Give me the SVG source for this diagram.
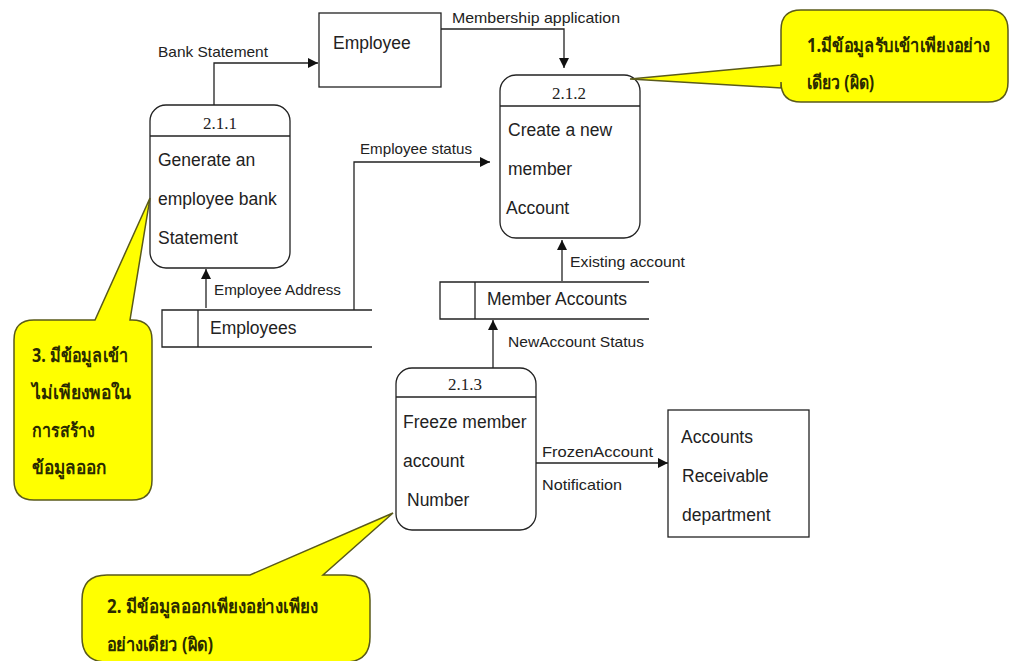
<svg xmlns="http://www.w3.org/2000/svg" width="1019" height="661" viewBox="0 0 1019 661">
<defs>
<style>
.box{fill:#fff;stroke:#222;stroke-width:1.3}
.ln{fill:none;stroke:#222;stroke-width:1.3}
.t{font-family:"Liberation Sans",Arial,sans-serif;font-size:17.5px;fill:#222}
.lb{font-family:"Liberation Sans",Arial,sans-serif;font-size:15px;fill:#222}
.id{font-family:"Liberation Serif","Times New Roman",serif;font-size:17px;fill:#222;text-anchor:middle}
.call{fill:#ffff00;stroke:#5a5a1a;stroke-width:1.5}
.ct{font-family:"Noto Sans","DejaVu Sans",sans-serif;font-size:19px;font-weight:bold;fill:#2a2a00}
</style>
<marker id="arr" viewBox="0 0 10 10" refX="10" refY="5" markerWidth="10" markerHeight="10" markerUnits="userSpaceOnUse" orient="auto">
<path d="M0,0 L10,5 L0,10 Z" fill="#111"/>
</marker>
</defs>
<rect width="1019" height="661" fill="#fff"/>

<g id="connectors">
<polyline class="ln" points="214,105 214,63 318,63" marker-end="url(#arr)"/>
<text class="lb" x="158" y="57" textLength="110" lengthAdjust="spacingAndGlyphs">Bank Statement</text>
<polyline class="ln" points="441,29 564,29 564,68" marker-end="url(#arr)"/>
<text class="lb" x="452" y="23" textLength="168" lengthAdjust="spacingAndGlyphs">Membership application</text>
<line class="ln" x1="206" y1="308" x2="206" y2="269" marker-end="url(#arr)"/>
<text class="lb" x="214" y="295" textLength="127" lengthAdjust="spacingAndGlyphs">Employee Address</text>
<polyline class="ln" points="354,310 354,162 490,162" marker-end="url(#arr)"/>
<text class="lb" x="360" y="154" textLength="112" lengthAdjust="spacingAndGlyphs">Employee status</text>
<line class="ln" x1="562" y1="281" x2="562" y2="240" marker-end="url(#arr)"/>
<text class="lb" x="570" y="267" textLength="115" lengthAdjust="spacingAndGlyphs">Existing account</text>
<line class="ln" x1="493" y1="368" x2="493" y2="320" marker-end="url(#arr)"/>
<text class="lb" x="508" y="347" textLength="136" lengthAdjust="spacingAndGlyphs">NewAccount Status</text>
<line class="ln" x1="536" y1="463" x2="668" y2="463" marker-end="url(#arr)"/>
<text class="lb" x="542" y="457" textLength="111" lengthAdjust="spacingAndGlyphs">FrozenAccount</text>
<text class="lb" x="542" y="490" textLength="80" lengthAdjust="spacingAndGlyphs">Notification</text>
</g>

<g id="employee">
<rect class="box" x="319" y="13" width="122" height="74"/>
<text class="t" x="333" y="49">Employee</text>
</g>

<g id="p211">
<rect class="box" x="150" y="105" width="140" height="163" rx="16"/>
<line class="ln" x1="150" y1="136" x2="290" y2="136"/>
<text class="id" x="220" y="129">2.1.1</text>
<text class="t" x="158" y="166">Generate an</text>
<text class="t" x="158" y="205">employee bank</text>
<text class="t" x="158" y="244">Statement</text>
</g>

<g id="p212">
<rect class="box" x="500" y="75" width="140" height="163" rx="16"/>
<line class="ln" x1="500" y1="106" x2="640" y2="106"/>
<text class="id" x="569" y="99">2.1.2</text>
<text class="t" x="508" y="136">Create a new</text>
<text class="t" x="508" y="175">member</text>
<text class="t" x="506" y="214">Account</text>
</g>

<g id="p213">
<rect class="box" x="396" y="368" width="140" height="162" rx="16"/>
<line class="ln" x1="396" y1="397" x2="536" y2="397"/>
<text class="id" x="465" y="390">2.1.3</text>
<text class="t" x="403" y="428">Freeze member</text>
<text class="t" x="403" y="467">account</text>
<text class="t" x="407" y="506">Number</text>
</g>

<g id="employees-store">
<polyline class="ln" points="372,310 162,310 162,347 372,347"/>
<line class="ln" x1="198" y1="310" x2="198" y2="347"/>
<text class="t" x="210" y="334">Employees</text>
</g>

<g id="member-accounts-store">
<polyline class="ln" points="649,282 440,282 440,319 649,319"/>
<line class="ln" x1="475" y1="282" x2="475" y2="319"/>
<text class="t" x="487" y="305">Member Accounts</text>
</g>

<g id="accounts-receivable">
<rect class="box" x="668" y="410" width="141" height="127"/>
<text class="t" x="681" y="443">Accounts</text>
<text class="t" x="682" y="482">Receivable</text>
<text class="t" x="682" y="521">department</text>
</g>

<g id="callout1">
<path class="call" d="M801,10 H988 Q1008,10 1008,30 V82 Q1008,102 988,102 H801 Q781,102 781,82 V88 L630,79 L781,65 V30 Q781,10 801,10 Z"/>
<text class="ct" x="807" y="52" textLength="183" lengthAdjust="spacingAndGlyphs">1.มีข้อมูลรับเข้าเพียงอย่าง</text>
<text class="ct" x="807" y="89" textLength="67" lengthAdjust="spacingAndGlyphs">เดียว (ผิด)</text>
</g>

<g id="callout3">
<path class="call" d="M34,320 H95 L150,198 L130,320 H132 Q152,320 152,340 V480 Q152,500 132,500 H34 Q14,500 14,480 V340 Q14,320 34,320 Z"/>
<text class="ct" x="32" y="362" textLength="96" lengthAdjust="spacingAndGlyphs">3. มีข้อมูลเข้า</text>
<text class="ct" x="32" y="399" textLength="99" lengthAdjust="spacingAndGlyphs">ไม่เพียงพอใน</text>
<text class="ct" x="32" y="437" textLength="63" lengthAdjust="spacingAndGlyphs">การสร้าง</text>
<text class="ct" x="32" y="474" textLength="75" lengthAdjust="spacingAndGlyphs">ข้อมูลออก</text>
</g>

<g id="callout2">
<path class="call" d="M107,575 H250 L393,513 L323,575 H345 Q370,575 370,600 V637 Q370,662 345,662 H107 Q82,662 82,637 V600 Q82,575 107,575 Z"/>
<text class="ct" x="107" y="613" textLength="211" lengthAdjust="spacingAndGlyphs">2. มีข้อมูลออกเพียงอย่างเพียง</text>
<text class="ct" x="107" y="651" textLength="106" lengthAdjust="spacingAndGlyphs">อย่างเดียว (ผิด)</text>
</g>
</svg>
